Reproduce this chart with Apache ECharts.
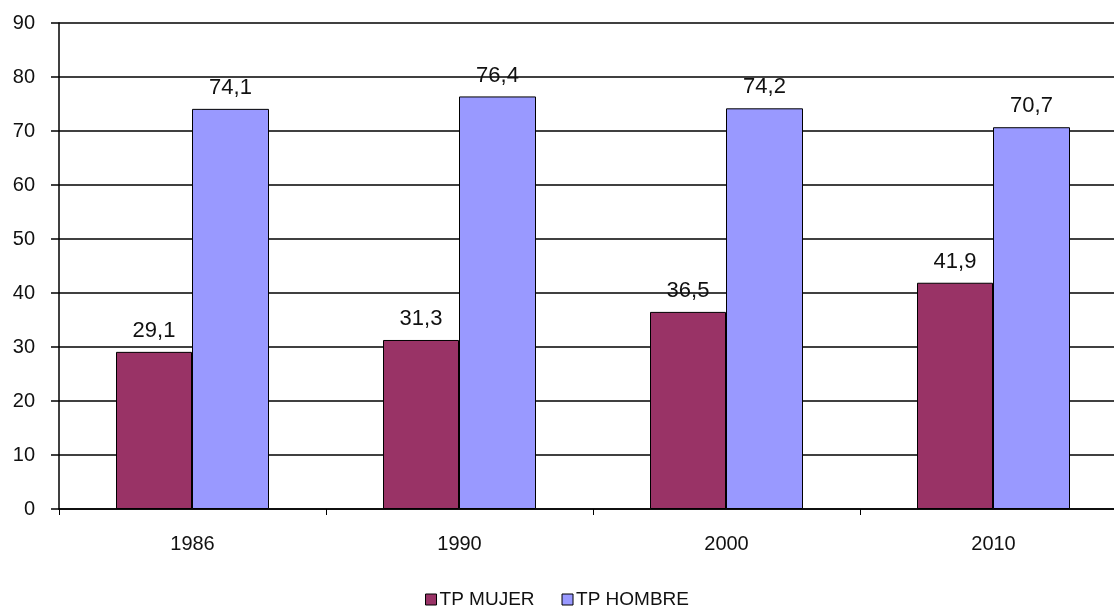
<!DOCTYPE html>
<html><head><meta charset="utf-8">
<script src="https://cdn.jsdelivr.net/npm/echarts@6/dist/echarts.min.js"></script>
<style>html,body{margin:0;padding:0;background:#fff}#c{width:1114px;height:608px}</style>
</head><body><div id="c"></div>
<script>
const categories = ['1986', '1990', '2000', '2010'];
const mujer = [29.1, 31.3, 36.5, 41.9];
const hombre = [74.1, 76.4, 74.2, 70.7];
const seriesNames = ['TP MUJER', 'TP HOMBRE'];
const yTicks = { min: 0, max: 90, interval: 10 };

const chart = echarts.init(document.getElementById('c'), null, { renderer: 'canvas' });
const fmt = p => String(p.value).replace('.', ',');
const labelStyle = { show: true, position: 'top', formatter: fmt, color: '#111', fontSize: 22, fontFamily: 'Liberation Sans, Arial', distance: 10 };
chart.setOption({
  animation: false,
  textStyle: { fontFamily: 'Liberation Sans, Arial' },
  grid: { left: 59, top: 23, right: -13, bottom: 99, containLabel: false, outerBoundsMode: 'none' },
  legend: {
    top: 585, left: 'center', itemWidth: 11, itemHeight: 11, itemGap: 27,
    icon: 'rect',
    textStyle: { fontSize: 19, color: '#111', padding: [0, 0, 0, -2] },
    data: seriesNames.map(n => ({ name: n, itemStyle: { borderColor: '#000', borderWidth: 1 } }))
  },
  xAxis: {
    type: 'category', data: categories,
    axisLine: { lineStyle: { color: '#000', width: 1.5 } },
    axisTick: { show: true, length: 6, lineStyle: { color: '#000' } },
    axisLabel: { fontSize: 20, color: '#111', margin: 25 }
  },
  yAxis: {
    type: 'value', min: yTicks.min, max: yTicks.max, interval: yTicks.interval,
    axisLine: { show: true, lineStyle: { color: '#000', width: 1.5 } },
    axisTick: { show: true, inside: false, length: 8, lineStyle: { color: '#000', width: 1.5 } },
    splitLine: { lineStyle: { color: '#000', width: 1.5 } },
    axisLabel: { fontSize: 20, color: '#111', margin: 24 }
  },
  series: [
    { name: seriesNames[0], type: 'bar', data: mujer, barWidth: 76, barGap: '0%',
      itemStyle: { color: '#993366', borderColor: '#000', borderWidth: 1 }, label: labelStyle },
    { name: seriesNames[1], type: 'bar', data: hombre, barWidth: 77, barGap: '0%',
      itemStyle: { color: '#9999FF', borderColor: '#000', borderWidth: 1 }, label: labelStyle }
  ]
});
</script></body></html>
